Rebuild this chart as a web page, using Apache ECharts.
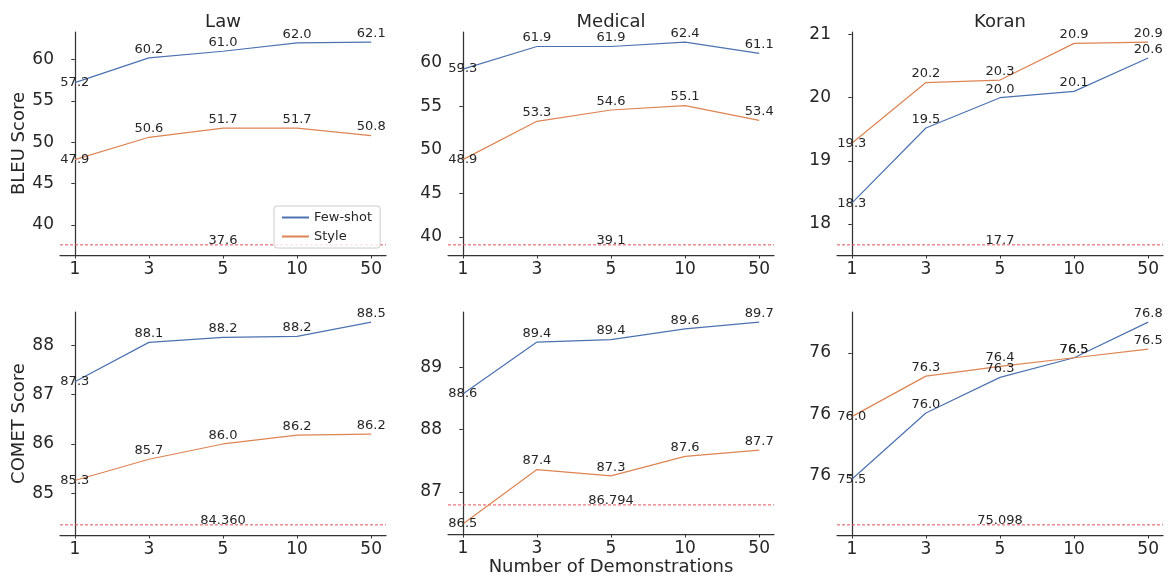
<!DOCTYPE html>
<html lang="en">
<head>
<meta charset="UTF-8">
<title>Demonstrations</title>
<script src="https://cdn.jsdelivr.net/npm/echarts@6/dist/echarts.min.js"></script>
<style>
  html, body { margin: 0; padding: 0; background: #fff; }
  #main { width: 1168px; height: 577px; }
</style>
</head>
<body>
<div id="main"></div>
<script>
// x categories (number of demonstrations)
const demos = ['1', '3', '5', '10', '50'];
const domains = ['Law', 'Medical', 'Koran'];

// BLEU
const lawBleuFew = [57.2, 60.2, 61.0, 62.0, 62.1];
const lawBleuStyle = [47.9, 50.6, 51.7, 51.7, 50.8];
const lawBleuBase = 37.6;
const medBleuFew = [59.3, 61.9, 61.9, 62.4, 61.1];
const medBleuStyle = [48.9, 53.3, 54.6, 55.1, 53.4];
const medBleuBase = 39.1;
const korBleuFew = [18.33, 19.52, 20.0, 20.1, 20.63];
const korBleuStyle = [19.28, 20.24, 20.28, 20.86, 20.88];
const korBleuBase = 17.67;

// COMET
const lawCometFew = [87.26, 88.06, 88.16, 88.18, 88.47];
const lawCometStyle = [85.26, 85.69, 86.0, 86.18, 86.2];
const lawCometBase = 84.360;
const medCometFew = [88.57, 89.4, 89.44, 89.61, 89.72];
const medCometStyle = [86.49, 87.36, 87.26, 87.57, 87.67];
const medCometBase = 86.794;
const korCometFew = [75.47, 76.01, 76.3, 76.46, 76.75];
const korCometStyle = [75.98, 76.31, 76.39, 76.46, 76.53];
const korCometBase = 75.098;

// y tick values and labels
const lawBleuTicks = [40, 45, 50, 55, 60];
const medBleuTicks = [40, 45, 50, 55, 60];
const korBleuTicks = [18, 19, 20, 21];
const lawCometTicks = [85, 86, 87, 88];
const medCometTicks = [87, 88, 89];
const korCometTicks = [75.5, 76, 76.5];
const korCometTickLabels = ['76', '76', '76'];

const panels = [
  { few: lawBleuFew, style: lawBleuStyle, base: lawBleuBase, ticks: lawBleuTicks, baseDigits: 1 },
  { few: medBleuFew, style: medBleuStyle, base: medBleuBase, ticks: medBleuTicks, baseDigits: 1 },
  { few: korBleuFew, style: korBleuStyle, base: korBleuBase, ticks: korBleuTicks, baseDigits: 1 },
  { few: lawCometFew, style: lawCometStyle, base: lawCometBase, ticks: lawCometTicks, baseDigits: 3 },
  { few: medCometFew, style: medCometStyle, base: medCometBase, ticks: medCometTicks, baseDigits: 3 },
  { few: korCometFew, style: korCometStyle, base: korCometBase, ticks: korCometTicks, tickLabels: korCometTickLabels, baseDigits: 3 }
];

const BLUE = '#4c72b0', ORANGE = '#dd8452', RED = '#e3525c';
const TXT = '#262626', AX = '#333333';
const FONT = 'DejaVu Sans';
const colLeft = [60, 448, 837];
const rowTop = [32, 312];
const W = 326, H = 223;
const X_MIN = -0.2, X_MAX = 4.2;

const grid = [], xAxis = [], yAxis = [], series = [], title = [];

panels.forEach(function (p, k) {
  const r = Math.floor(k / 3), c = k % 3;
  grid.push({ left: colLeft[c], top: rowTop[r], width: W, height: H });

  const all = p.few.concat(p.style, [p.base]);
  const lo = Math.min.apply(null, all), hi = Math.max.apply(null, all);
  const pad = (hi - lo) * 0.05;

  xAxis.push({
    type: 'value', gridIndex: k, min: X_MIN, max: X_MAX,
    splitLine: { show: false },
    axisLine: { show: true, lineStyle: { color: AX, width: 1.25 } },
    axisTick: { show: true, length: 3.5, customValues: [0, 1, 2, 3, 4], lineStyle: { color: AX } },
    axisLabel: {
      customValues: [0, 1, 2, 3, 4], margin: 6, fontSize: 17, color: TXT, fontFamily: FONT,
      formatter: function (v) { return demos[Math.round(v)]; }
    },
    name: k === 4 ? 'Number of Demonstrations' : '',
    nameLocation: 'middle', nameGap: 24,
    nameTextStyle: { fontSize: 18, color: TXT, fontFamily: FONT }
  });

  yAxis.push({
    type: 'value', gridIndex: k, min: lo - pad, max: hi + pad,
    splitLine: { show: false },
    axisLine: { show: true, lineStyle: { color: AX, width: 1.25 } },
    axisTick: { show: true, length: 3.5, customValues: p.ticks, lineStyle: { color: AX } },
    axisLabel: {
      customValues: p.ticks, margin: 6, fontSize: 17, color: TXT, fontFamily: FONT,
      formatter: function (v) {
        const i = p.ticks.indexOf(v);
        return p.tickLabels ? p.tickLabels[i] : String(Math.round(v));
      }
    },
    name: c === 0 ? (r === 0 ? 'BLEU Score' : 'COMET Score') : '',
    nameLocation: 'middle', nameGap: 31,
    nameTextStyle: { fontSize: 18, color: TXT, fontFamily: FONT }
  });

  function mkData(vals) {
    return vals.map(function (v, i) {
      const d = { value: [i, v] };
      if (i === 0) d.label = { position: 'inside' };
      return d;
    });
  }
  function lbl() {
    return {
      show: true, position: 'top', distance: 2, fontSize: 13, color: TXT, fontFamily: FONT,
      formatter: function (q) { return q.value[1].toFixed(1); }
    };
  }

  // zero-shot baseline, across the whole plot width, labelled at its middle
  series.push({
    name: 'Baseline', type: 'line', xAxisIndex: k, yAxisIndex: k, z: 1,
    data: [
      { value: [X_MIN, p.base], label: { show: false } },
      { value: [(X_MIN + X_MAX) / 2, p.base] },
      { value: [X_MAX, p.base], label: { show: false } }
    ],
    showSymbol: true, symbol: 'circle', symbolSize: 0.1,
    lineStyle: { color: RED, type: [3, 2], width: 1 }, itemStyle: { color: RED },
    label: {
      show: true, position: 'top', distance: -2, fontSize: 13, color: TXT, fontFamily: FONT,
      formatter: p.base.toFixed(p.baseDigits)
    },
    labelLayout: { hideOverlap: false }
  });
  series.push({
    name: 'Few-shot', type: 'line', xAxisIndex: k, yAxisIndex: k,
    data: mkData(p.few), showSymbol: true, symbol: 'circle', symbolSize: 0.1,
    lineStyle: { color: BLUE, width: 1.2 }, itemStyle: { color: BLUE },
    label: lbl(), labelLayout: { hideOverlap: false }
  });
  series.push({
    name: 'Style', type: 'line', xAxisIndex: k, yAxisIndex: k,
    data: mkData(p.style), showSymbol: true, symbol: 'circle', symbolSize: 0.1,
    lineStyle: { color: ORANGE, width: 1.2 }, itemStyle: { color: ORANGE },
    label: lbl(), labelLayout: { hideOverlap: false }
  });
});

domains.forEach(function (d, c) {
  title.push({
    text: d, left: colLeft[c] + W / 2, top: 13, textAlign: 'center', padding: 0,
    textStyle: { fontSize: 18, fontWeight: 'normal', color: TXT, fontFamily: FONT }
  });
});

const chart = echarts.init(document.getElementById('main'));
chart.setOption({
  animation: false,
  backgroundColor: '#fff',
  textStyle: { fontFamily: FONT },
  title: title,
  legend: {
    data: ['Few-shot', 'Style'],
    orient: 'vertical', left: 274, top: 206,
    padding: [5, 8], itemWidth: 27, itemHeight: 2, itemGap: 6, itemTextGap: 11,
    icon: 'rect',
    backgroundColor: 'rgba(255,255,255,0.8)', borderColor: '#cccccc', borderWidth: 1, borderRadius: 3,
    textStyle: { fontSize: 13, color: TXT, fontFamily: FONT }
  },
  grid: grid, xAxis: xAxis, yAxis: yAxis, series: series
});
</script>
</body>
</html>
